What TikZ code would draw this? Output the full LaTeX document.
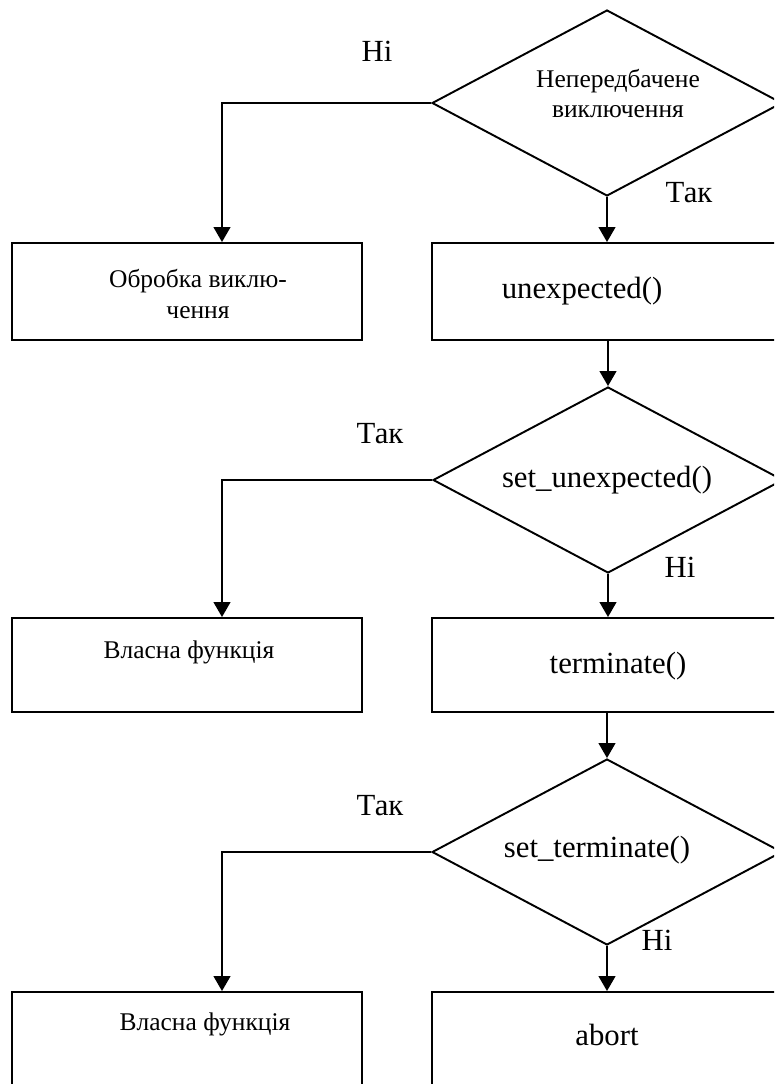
\documentclass[tikz,border=0pt]{standalone}
\usepackage{fontspec}
\setmainfont{Liberation Serif}
\usetikzlibrary{shapes.geometric,arrows.meta}
\begin{document}
\begin{tikzpicture}[x=0.02cm,y=-0.02cm,line width=1.1pt,
  cond/.style={draw,diamond,minimum width=7cm,minimum height=3.72cm,inner sep=0pt},
  box/.style={draw,rectangle,minimum width=7cm,inner sep=0pt},
  rbox/.style={box,minimum width=7.16cm},
  arr/.style={-{Triangle[length=8.5pt,width=9.5pt]}},
  big/.style={anchor=base,inner sep=0pt,font=\fontsize{17.5}{21}\selectfont},
  small/.style={anchor=base,inner sep=0pt,align=center,font=\fontsize{14.5}{17.5}\selectfont}]
  \useasboundingbox (0,0) rectangle (774,1084);
  \clip (0,0) rectangle (774,1084);
  \node[cond] (q1) at (607,103) {};
  \node[cond] (q2) at (608,480) {};
  \node[cond] (q3) at (607,852) {};
  \node[rbox,minimum height=1.94cm] (r1) at (611,291.5) {};
  \node[box,minimum height=1.94cm] (l1) at (187,291.5) {};
  \node[rbox,minimum height=1.88cm] (r2) at (611,665) {};
  \node[box,minimum height=1.88cm] (l2) at (187,665) {};
  \node[rbox,minimum height=2.36cm] (r3) at (611,1051) {};
  \node[box,minimum height=2.36cm] (l3) at (187,1051) {};
  \draw[arr] (q1.west) -| ([xshift=0.7cm]l1.north);
  \draw[arr] (q1.south) -- (q1.south |- r1.north);
  \draw[arr] (r1.south -| q2.north) -- (q2.north);
  \draw[arr] (q2.west) -| ([xshift=0.7cm]l2.north);
  \draw[arr] (q2.south) -- (q2.south |- r2.north);
  \draw[arr] (r2.south -| q3.north) -- (q3.north);
  \draw[arr] (q3.west) -| ([xshift=0.7cm]l3.north);
  \draw[arr] (q3.south) -- (q3.south |- r3.north);
  \node[small] (t1) at (618,118) {Непередбачене\\виключення};
  \node[small] (t2) at (198,318) {Обробка виклю-\\чення};
  \node[big] (t3) at (582,298) {unexpected()};
  \node[big] (t4) at (607,487) {set\_unexpected()};
  \node[small] (t5) at (189,658) {Власна функція};
  \node[big] (t6) at (618,673) {terminate()};
  \node[big] (t7) at (597,857) {set\_terminate()};
  \node[small] (t8) at (205,1030) {Власна функція};
  \node[big] (t9) at (607,1045) {abort};
  \node[big] (n1) at (377,62) {Ні};
  \node[big] (y1) at (689,203) {Так};
  \node[big] (y2) at (380,443) {Так};
  \node[big] (n2) at (680,577) {Ні};
  \node[big] (y3) at (380,815) {Так};
  \node[big] (n3) at (657,950) {Ні};
\end{tikzpicture}
\end{document}
